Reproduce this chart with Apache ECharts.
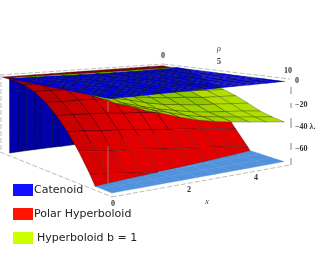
<!DOCTYPE html>
<html><head><meta charset="utf-8">
<style>html,body{margin:0;padding:0;background:#fff}#c{width:330px;height:259px;filter:blur(0.35px)}</style>
<script src="https://cdn.jsdelivr.net/npm/echarts@6/dist/echarts.min.js"></script></head>
<body><div id="c"></div>
<script>
// ---- data (x, rho, lambda) ----
const xs = [0,0.5,1,1.5,2,2.5,3,3.5,4,4.5,5];
const polarRho = [0,1,2,3,4,5,6,7,8,9,10];
const polarLambda = [
 [-2,-3,-5,-9,-16,-25,-36,-49,-64,-81,-100],
 [-2,-3,-5,-9,-17,-26,-37,-51,-66,-84,-103],
 [-2,-3,-5,-10,-17,-27,-39,-53,-68,-87,-106],
 [-2,-3,-5,-10,-18,-28,-40,-54,-70,-89,-108],
 [-2,-3,-6,-11,-19,-30,-42,-56,-72,-91,-111],
 [-2,-3,-6,-11,-20,-31,-44,-58,-74,-93,-113],
 [-2,-3,-6,-12,-21,-33,-46,-60,-76,-96,-116],
 [-2,-3,-6,-12,-22,-34,-48,-62,-78,-98,-118],
 [-2,-3,-6,-13,-23,-36,-50,-64,-80,-100,-120],
 [-2,-3,-6,-13,-24,-38,-52,-66,-83,-102,-122],
 [-2,-3,-6,-13,-24,-40,-55,-69,-85,-105,-125]
];
const hyperRho = [1,2,3,4,5,6,7,8,9,10];
const hyperLambda = [
 [-0.1,-0.1,-0.2,-0.4,-0.5,-0.7,-0.8,-1,-1,-1],
 [-0.4,-0.7,-1.8,-3,-4,-5,-6,-7,-8,-8],
 [-0.7,-1,-3,-5,-6,-8,-9,-11,-12,-13],
 [-0.9,-1.4,-4,-6,-8,-10,-12,-15,-16,-17],
 [-1.2,-1.7,-5,-8,-10,-13,-16,-19,-20,-21.5],
 [-1.4,-2,-5.5,-10,-12,-15,-19,-22,-24,-25.5],
 [-1.5,-2.3,-6,-11,-14,-17,-21,-25,-27,-28.5],
 [-1.7,-2.5,-7,-12,-15,-18,-23,-27,-29,-31],
 [-1.8,-2.7,-7,-12.5,-16,-20,-24,-28.5,-31,-33],
 [-1.9,-2.8,-7.5,-13,-17,-21,-25.5,-30,-33,-35],
 [-2,-3,-8,-14,-18,-22,-27,-32,-35,-37]
];
const catX = [0,0.25,0.5,0.75,1,1.25,1.5,1.75,2,2.25,2.5,2.75,3,3.25,3.5,3.75,4,4.25,4.5,4.75,5];
const catEdgeRho = [0.7,0.72,0.75,0.8,0.85,0.9,1,1.05,1.1,1.15,1.2,1.25,1.3,1.3,1.35,1.35,1.35,1.3,1.3,1.25,1.2];
const catLambda = [-2,-2,-2,-1.9,-1.9,-1.8,-1.8,-1.7,-1.7,-1.6,-1.6,-1.5,-1.5,-1.4,-1.4,-1.3,-1.3];
const wallBottom = -73;
const floorLambda = -72;
const legendNames = ['Catenoid','Polar Hyperboloid','Hyperboloid b = 1'];
const zTicks = ['0','\u221220','\u221240 \u03bb.','\u221260'];
const xTicks = ['0','2','4'];
const rhoTicks = ['0','5','10'];

// ---- view: where the box corners fall on the picture ----
const C = {
 t00:[2,75], t50:[163,64], t51:[285,80], t01:[110,97],
 b00:[2,152], b50:[163,125], b51:[284,165], b01:[112,197]
};
function lerp(a,b,t){return [a[0]+(b[0]-a[0])*t,a[1]+(b[1]-a[1])*t];}
function proj(x,rho,lam){
 const u=x/5,v=rho/10,w=-lam/75;
 const top=lerp(lerp(C.t00,C.t50,u),lerp(C.t01,C.t51,u),v);
 const bot=lerp(lerp(C.b00,C.b50,u),lerp(C.b01,C.b51,u),v);
 return lerp(top,bot,w);
}
function clipBelow(poly,f,keepAbove){
 const out=[];
 for(let i=0;i<poly.length;i++){
  const a=poly[i],b=poly[(i+1)%poly.length];
  const ia=keepAbove?a[2]>=f:a[2]<f, ib=keepAbove?b[2]>=f:b[2]<f;
  if(ia)out.push(a);
  if(ia!==ib){const t=(f-a[2])/(b[2]-a[2]);out.push([a[0]+(b[0]-a[0])*t,a[1]+(b[1]-a[1])*t,f]);}
 }
 return out;
}
function poly3(api,pts,fill,stroke,lw){
 return {type:'polygon',shape:{points:pts.map(p=>api.coord(proj(p[0],p[1],p[2])))},
  style:{fill:fill,stroke:stroke,lineWidth:lw||0}};
}
function cells(nr,nc){const d=[];for(let j=0;j<nc-1;j++)for(let i=0;i<nr-1;i++)d.push([i,j]);return d;}

function polarColor(i,j){
 if(j===0)return '#7c0000';
 if(j===1)return '#a00000';
 const k=Math.min(1,(i+j*0.9-2)/6);
 const r=Math.round(180+(226-180)*k);
 return 'rgb('+r+',0,0)';
}
function hyperColor(i,j){
 return (i>=8&&j>=4)?'#b0de00':(j>=6?'#a0d400':'#8fc800');
}
const mesh='rgba(30,0,0,0.6)';

const polarSeries={type:'custom',name:legendNames[1],coordinateSystem:'cartesian2d',silent:true,clip:false,z:3,
 itemStyle:{color:'#ff1500'},data:cells(xs.length,polarRho.length),
 renderItem(p,api){
  const i=api.value(0),j=api.value(1);
  const q=[[xs[i],polarRho[j],polarLambda[i][j]],[xs[i+1],polarRho[j],polarLambda[i+1][j]],
           [xs[i+1],polarRho[j+1],polarLambda[i+1][j+1]],[xs[i],polarRho[j+1],polarLambda[i][j+1]]];
  const kids=[];
  const up=clipBelow(q,floorLambda,true);
  const low=clipBelow(q,floorLambda,false).map(a=>[a[0],a[1],floorLambda]);
  if(low.length>2)kids.push(poly3(api,low,'#5292dc','#5292dc',0.4));
  if(up.length>2)kids.push(poly3(api,up,polarColor(i,j),mesh,0.5));
  return {type:'group',children:kids};
 }};
const hyperSeries={type:'custom',name:legendNames[2],coordinateSystem:'cartesian2d',silent:true,clip:false,z:4,
 itemStyle:{color:'#ccff00'},data:cells(xs.length,hyperRho.length),
 renderItem(p,api){
  const i=api.value(0),j=api.value(1);
  return poly3(api,[[xs[i],hyperRho[j],hyperLambda[i][j]],[xs[i+1],hyperRho[j],hyperLambda[i+1][j]],
   [xs[i+1],hyperRho[j+1],hyperLambda[i+1][j+1]],[xs[i],hyperRho[j+1],hyperLambda[i][j+1]]],hyperColor(i,j),'rgba(20,40,0,0.55)',0.5);
 }};
const catSteps=catLambda.length;
function catR(i,j){const e=catEdgeRho[i];return e+(10-e)*j/(catSteps-1);}
const catSeries={type:'custom',name:legendNames[0],coordinateSystem:'cartesian2d',silent:true,clip:false,z:5,
 itemStyle:{color:'#1010ff'},data:cells(catX.length,catSteps),
 renderItem(p,api){
  const i=api.value(0),j=api.value(1);
  return poly3(api,[[catX[i],catR(i,j),catLambda[j]],[catX[i+1],catR(i+1,j),catLambda[j]],
   [catX[i+1],catR(i+1,j+1),catLambda[j+1]],[catX[i],catR(i,j+1),catLambda[j+1]]],'#0000f4','rgba(0,0,50,0.45)',0.5);
 }};
const wallSeries={type:'custom',coordinateSystem:'cartesian2d',silent:true,clip:false,z:2,
 data:catX.slice(0,-1).map((_,i)=>[i]),
 renderItem(p,api){
  const i=api.value(0);
  return poly3(api,[[catX[i],catEdgeRho[i],catLambda[0]],[catX[i+1],catEdgeRho[i+1],catLambda[0]],
   [catX[i+1],catEdgeRho[i+1],wallBottom],[catX[i],catEdgeRho[i],wallBottom]],i%2?'#00009c':'#0000ae','rgba(0,0,50,0.8)',0.7);
 }};
// Box edges: picture-plane axis lines
const boxEdges=[
 [[0,75],[163,64]],[[163,64],[290,79]],[[0,152],[112,197]],[[112,197],[290,165]],[[1,75],[1,152]]
];
const boxSeries={type:'custom',coordinateSystem:'cartesian2d',silent:true,clip:false,z:1,
 data:boxEdges.map((_,i)=>[i]),
 renderItem(p,api){
  const e=boxEdges[api.value(0)];
  const a=api.coord(e[0]),b=api.coord(e[1]);
  return {type:'line',shape:{x1:a[0],y1:a[1],x2:b[0],y2:b[1]},style:{stroke:'#b5b5b5',lineWidth:0.9,lineDash:[5,2]}};
 }};
const frontSegments=[[-3,-11],[-37,-65]];
const frontSeries={type:'custom',coordinateSystem:'cartesian2d',silent:true,clip:false,z:6,
 data:frontSegments.map((_,i)=>[i]),
 renderItem(p,api){
  const s=frontSegments[api.value(0)];
  const a=api.coord([108,97+(-s[0])/75*100]),b=api.coord([108,97+(-s[1])/75*100]);
  return {type:'line',shape:{x1:a[0],y1:a[1],x2:b[0],y2:b[1]},style:{stroke:'#b06a6a',lineWidth:1}};
 }};
const zAxisSegs=[[87,94],[103,108],[118,128],[143,150],[158,165]];
const zAxisSeries={type:'custom',coordinateSystem:'cartesian2d',silent:true,clip:false,z:1,
 data:zAxisSegs.map((_,i)=>[i]),
 renderItem(p,api){
  const s=zAxisSegs[api.value(0)];
  const a=api.coord([291,s[0]]),b=api.coord([291,s[1]]);
  return {type:'line',shape:{x1:a[0],y1:a[1],x2:b[0],y2:b[1]},style:{stroke:'#777',lineWidth:0.9}};
 }};
function txt(t,x,y,italic,align){
 return {type:'text',x:x,y:y,silent:true,style:{text:t,fill:'#333',align:align||'center',verticalAlign:'middle',
  font:(italic?'italic ':'bold ')+'8px "Liberation Serif"'}};
}
const chart=echarts.init(document.getElementById('c'),null,{renderer:'canvas'});
chart.setOption({
 animation:false,
 grid:{left:0,right:0,top:0,bottom:0},
 xAxis:{type:'value',min:0,max:330,show:false},
 yAxis:{type:'value',min:0,max:259,inverse:true,show:false},
 legend:{orient:'vertical',left:13,top:184,itemWidth:20,itemHeight:12,itemGap:12,padding:0,icon:'rect',
  selectedMode:false,
  textStyle:{fontFamily:'DejaVu Sans',fontSize:11,color:'#222',padding:[0,0,0,-4]},
  data:[{name:legendNames[0]},{name:legendNames[1]},{name:legendNames[2],textStyle:{padding:[0,0,0,-1]}}]},
 series:[boxSeries,zAxisSeries,wallSeries,polarSeries,hyperSeries,catSeries,frontSeries],
 graphic:[
  txt(rhoTicks[0],163,56),txt(rhoTicks[1],219,62),txt(rhoTicks[2],288,71),txt('\u03c1',219,49,true),
  txt(xTicks[0],113,204),txt(xTicks[1],189,190),txt(xTicks[2],256,178),txt('x',207,202,true),
  txt(zTicks[0],297,81),txt(zTicks[1],295,105,false,'left'),txt(zTicks[2],295,127,false,'left'),txt(zTicks[3],295,149,false,'left')
 ]
});
</script></body></html>
